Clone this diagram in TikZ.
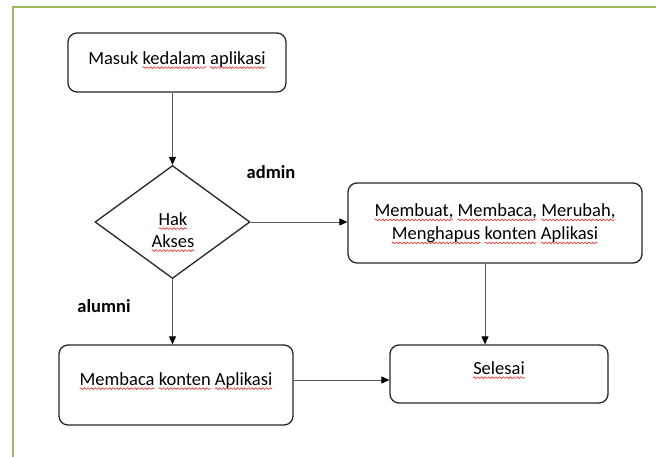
\documentclass[tikz,border=0pt]{standalone}
\usepackage{fontspec}
\setmainfont{Carlito}
\usetikzlibrary{shapes.geometric,arrows.meta,decorations.pathmorphing}
\definecolor{framegreen}{HTML}{9BBB59}
\definecolor{boxline}{HTML}{262626}
\definecolor{connline}{HTML}{595959}
\definecolor{squig}{HTML}{E03030}
\newsavebox\sqbox
\newcommand\sq[1]{\sbox\sqbox{#1}\usebox\sqbox\tikz[baseline=0pt,overlay]{\draw[squig,line width=0.6pt,sharp corners,decorate,decoration={snake,amplitude=0.9pt,segment length=3.6pt}] (-\wd\sqbox,-3.6pt) -- (0pt,-3.6pt);}}
\begin{document}
\begin{tikzpicture}[x=1pt,y=-1pt,
  box/.style={draw=boxline,line width=1.3pt,rounded corners=9pt,
    font=\fontsize{18.5}{23}\selectfont,align=center,inner sep=0pt},
  decbox/.style={draw=boxline,line width=1.3pt,shape=diamond,inner sep=0pt},
  txt/.style={font=\fontsize{18.5}{23}\selectfont,inner sep=0pt},
  conn/.style={draw=connline,line width=0.9pt,-{Triangle[length=8pt,width=7pt,color=black]}},
  lab/.style={font=\fontsize{18.5}{22}\selectfont\bfseries,inner sep=0pt,anchor=base}]
\useasboundingbox (0,0) rectangle (656,456);
\fill[white] (0,0) rectangle (656,456);
\draw[framegreen,line width=2.2pt] (13,458) -- (13,7) -- (658,7);

\node[box,minimum width=218pt,minimum height=59pt,text height=13pt,text depth=10pt] (start) at (177,62.5)
  {Masuk \sq{kedalam} \sq{aplikasi}};
\node[decbox,minimum width=155pt,minimum height=113pt] (hak) at (172.5,222) {};
\node[txt,anchor=base] (hak1) at (173,225) {\sq{Hak}};
\node[txt,anchor=base] (hak2) at (173,247) {\sq{Akses}};
\node[box,minimum width=294pt,minimum height=80pt] (admin) at (495,223)
  {\sq{Membuat,} \sq{Membaca,} \sq{Merubah,}\\ \sq{Menghapus} \sq{konten} \sq{Aplikasi}};
\node[box,minimum width=218pt,minimum height=58pt,text height=13pt,text depth=13pt] (selesai) at (499,374)
  {\sq{Selesai}};
\node[box,minimum width=234pt,minimum height=80pt,text height=13pt,text depth=13pt] (membaca) at (176,385)
  {\sq{Membaca} \sq{konten} \sq{Aplikasi}};

\node[lab] (ladmin) at (271,178) {admin};
\node[lab] (lalumni) at (104,312) {alumni};

\draw[conn] (start.south -| hak.north) -- (hak.north);
\draw[conn] (hak.east) -- (hak.east -| admin.west);
\draw[conn] (hak.south) -- (hak.south |- membaca.north);
\draw[conn] ([xshift=-10pt]admin.south) -- ([xshift=-10pt]admin.south |- selesai.north);
\draw[conn] ([yshift=5pt]membaca.east) -- ([yshift=5pt]membaca.east -| selesai.west);
\end{tikzpicture}
\end{document}
